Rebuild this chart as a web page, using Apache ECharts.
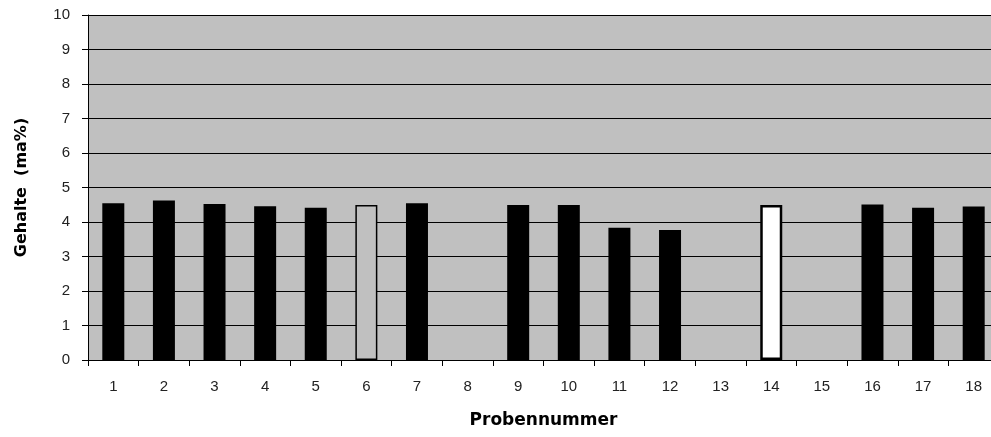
<!DOCTYPE html>
<html><head><meta charset="utf-8">
<script src="https://cdn.jsdelivr.net/npm/echarts@6/dist/echarts.min.js"></script>
<style>html,body{margin:0;padding:0;background:#fff}#c{width:991px;height:437px}</style>
</head><body><div id="c"></div>
<script>
const categories = ['1','2','3','4','5','6','7','8','9','10','11','12','13','14','15','16','17','18'];
const values = [4.54, 4.62, 4.52, 4.46, 4.41, 4.49, 4.54, null, 4.49, 4.49, 3.83, 3.77, null, 4.49, null, 4.51, 4.41, 4.45];
const yTicks = [0,1,2,3,4,5,6,7,8,9,10];

const special = {
  5: {color:'#C0C0C0', borderColor:'#000', borderWidth:1.5},
  13: {color:'#FFFFFF', borderColor:'#000', borderWidth:2.5}
};
const data = values.map((v,i)=> special[i] ? {value:v, itemStyle:special[i]} : v);

const chart = echarts.init(document.getElementById('c'), null, {renderer:'canvas'});
chart.setOption({
  animation:false,
  backgroundColor:'#fff',
  grid:{left:88, top:15, right:-8, bottom:77, show:true, backgroundColor:'#C0C0C0', borderWidth:0,
        containLabel:false, outerBoundsMode:'none'},
  xAxis:{
    type:'category', data:categories,
    axisLine:{lineStyle:{color:'#000', width:1}},
    axisTick:{show:true, length:6, alignWithLabel:false, lineStyle:{color:'#000'}},
    axisLabel:{color:'#222', fontSize:15, fontFamily:'"Liberation Sans"', margin:19},
    name:'Probennummer', nameLocation:'middle', nameGap:52,
    nameTextStyle:{fontFamily:'"DejaVu Sans"', fontWeight:'bold', fontSize:17, color:'#000', verticalAlign:'top'}
  },
  yAxis:{
    type:'value', min:yTicks[0], max:yTicks[yTicks.length-1], interval:1,
    axisLine:{show:true, lineStyle:{color:'#000', width:1}},
    axisTick:{show:true, length:6, lineStyle:{color:'#000'}},
    splitLine:{show:true, lineStyle:{color:'#000', width:1}},
    axisLabel:{color:'#222', fontSize:15, fontFamily:'"Liberation Sans"', margin:18},
    name:'Gehalte  (ma%)', nameLocation:'middle', nameGap:58, nameRotate:90,
    nameTextStyle:{fontFamily:'"DejaVu Sans"', fontWeight:'bold', fontSize:16, color:'#000'}
  },
  series:[{
    type:'bar', data:data, barWidth:22,
    itemStyle:{color:'#000', borderWidth:0}
  }]
});
</script></body></html>
